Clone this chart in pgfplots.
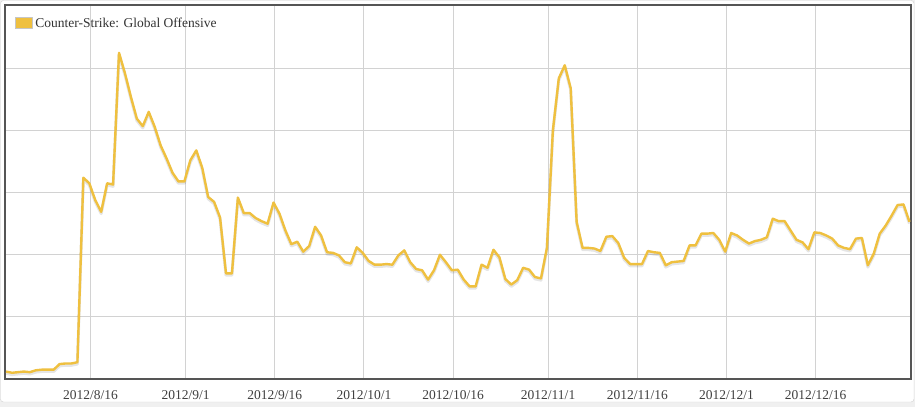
\documentclass[border=0pt]{standalone}
\usepackage{pgfplots}
\usepackage{pgfplotstable}
\pgfplotsset{compat=1.18}
\usepackage{fontspec}
\setmainfont{Liberation Serif}
\definecolor{csgo}{HTML}{EFC03F}
\definecolor{framec}{HTML}{555555}
\definecolor{gridc}{HTML}{D2D2D2}
\pgfplotstableread{
i v
0 0.12
1 0.10
2 0.11
3 0.12
4 0.11
5 0.14
6 0.15
7 0.15
8 0.15
9 0.24
10 0.25
11 0.25
12 0.27
13 3.24
14 3.15
15 2.88
16 2.69
17 3.15
18 3.13
19 5.25
20 4.92
21 4.54
22 4.19
23 4.07
24 4.30
25 4.06
26 3.76
27 3.55
28 3.32
29 3.18
30 3.18
31 3.52
32 3.68
33 3.40
34 2.93
35 2.85
36 2.60
37 1.70
38 1.70
39 2.92
40 2.67
41 2.67
42 2.59
43 2.54
44 2.50
45 2.84
46 2.66
47 2.39
48 2.17
49 2.21
50 2.05
51 2.14
52 2.45
53 2.31
54 2.04
55 2.03
56 1.99
57 1.88
58 1.86
59 2.12
60 2.03
61 1.90
62 1.84
63 1.84
64 1.85
65 1.84
66 1.99
67 2.07
68 1.88
69 1.77
70 1.75
71 1.60
72 1.75
73 2.00
74 1.88
75 1.75
76 1.76
77 1.60
78 1.49
79 1.49
80 1.84
81 1.79
82 2.08
83 1.96
84 1.61
85 1.52
86 1.59
87 1.79
88 1.76
89 1.64
90 1.62
91 2.11
92 4.00
93 4.84
94 5.05
95 4.68
96 2.53
97 2.11
98 2.11
99 2.10
100 2.06
101 2.29
102 2.30
103 2.19
104 1.95
105 1.85
106 1.85
107 1.85
108 2.06
109 2.04
110 2.03
111 1.83
112 1.88
113 1.89
114 1.90
115 2.15
116 2.15
117 2.34
118 2.34
119 2.35
120 2.24
121 2.05
122 2.35
123 2.31
124 2.24
125 2.18
126 2.22
127 2.24
128 2.28
129 2.58
130 2.54
131 2.54
132 2.39
133 2.24
134 2.20
135 2.09
136 2.36
137 2.35
138 2.31
139 2.26
140 2.15
141 2.11
142 2.09
143 2.26
144 2.27
145 1.83
146 2.02
147 2.34
148 2.47
149 2.63
150 2.80
151 2.81
152 2.53
}\csdata
\begin{document}
\begin{tikzpicture}[x=1pt,y=1pt]
\path[use as bounding box] (0,0) rectangle (915,407);
\fill[gray!12] (0,0) rectangle (915,407);
\filldraw[fill=white, draw=gray!35, rounded corners=3pt] (0.5,5) rectangle (914,406.5);
\begin{axis}[
  at={(5pt,28pt)}, anchor=south west,
  scale only axis, width=906pt, height=374pt,
  xmin=-0.185, xmax=152.26, ymin=0, ymax=6.02,
  xtick={14.2,30.2,45.2,60.2,75.2,91.2,106.2,121.2,136.2},
  xticklabels={2012/8/16,2012/9/1,2012/9/16,2012/10/1,2012/10/16,2012/11/1,2012/11/16,2012/12/1,2012/12/16},
  ytick={1,2,3,4,5}, yticklabels={},
  grid=major, major grid style={gridc, line width=0.8pt},
  major tick length=0pt,
  axis line style={framec, line width=2pt},
  xticklabel style={font=\fontsize{13.5}{15}\selectfont, text=black!75, yshift=-8pt},
  legend style={at={(0,1)}, anchor=north west, xshift=10pt, yshift=-10pt,
    draw=none, fill=none, inner sep=0pt, outer sep=0pt,
    font=\fontsize{13.5}{15}\selectfont, text=black!80,
    nodes={inner sep=2.5pt}},
  legend cell align=left,
  legend image code/.code={\draw[fill=csgo, draw=gray!45, line width=0.8pt] (0pt,-5.5pt) rectangle (17pt,6pt);},
]
\addplot[black, opacity=0.10, line width=3pt, line join=round, yshift=-1.8pt, forget plot] table[x=i, y=v] {\csdata};
\addplot[csgo, line width=2.4pt, line join=round] table[x=i, y=v] {\csdata};
\addlegendentry{Counter-Strike: Global Offensive}
\end{axis}
\end{tikzpicture}
\end{document}
